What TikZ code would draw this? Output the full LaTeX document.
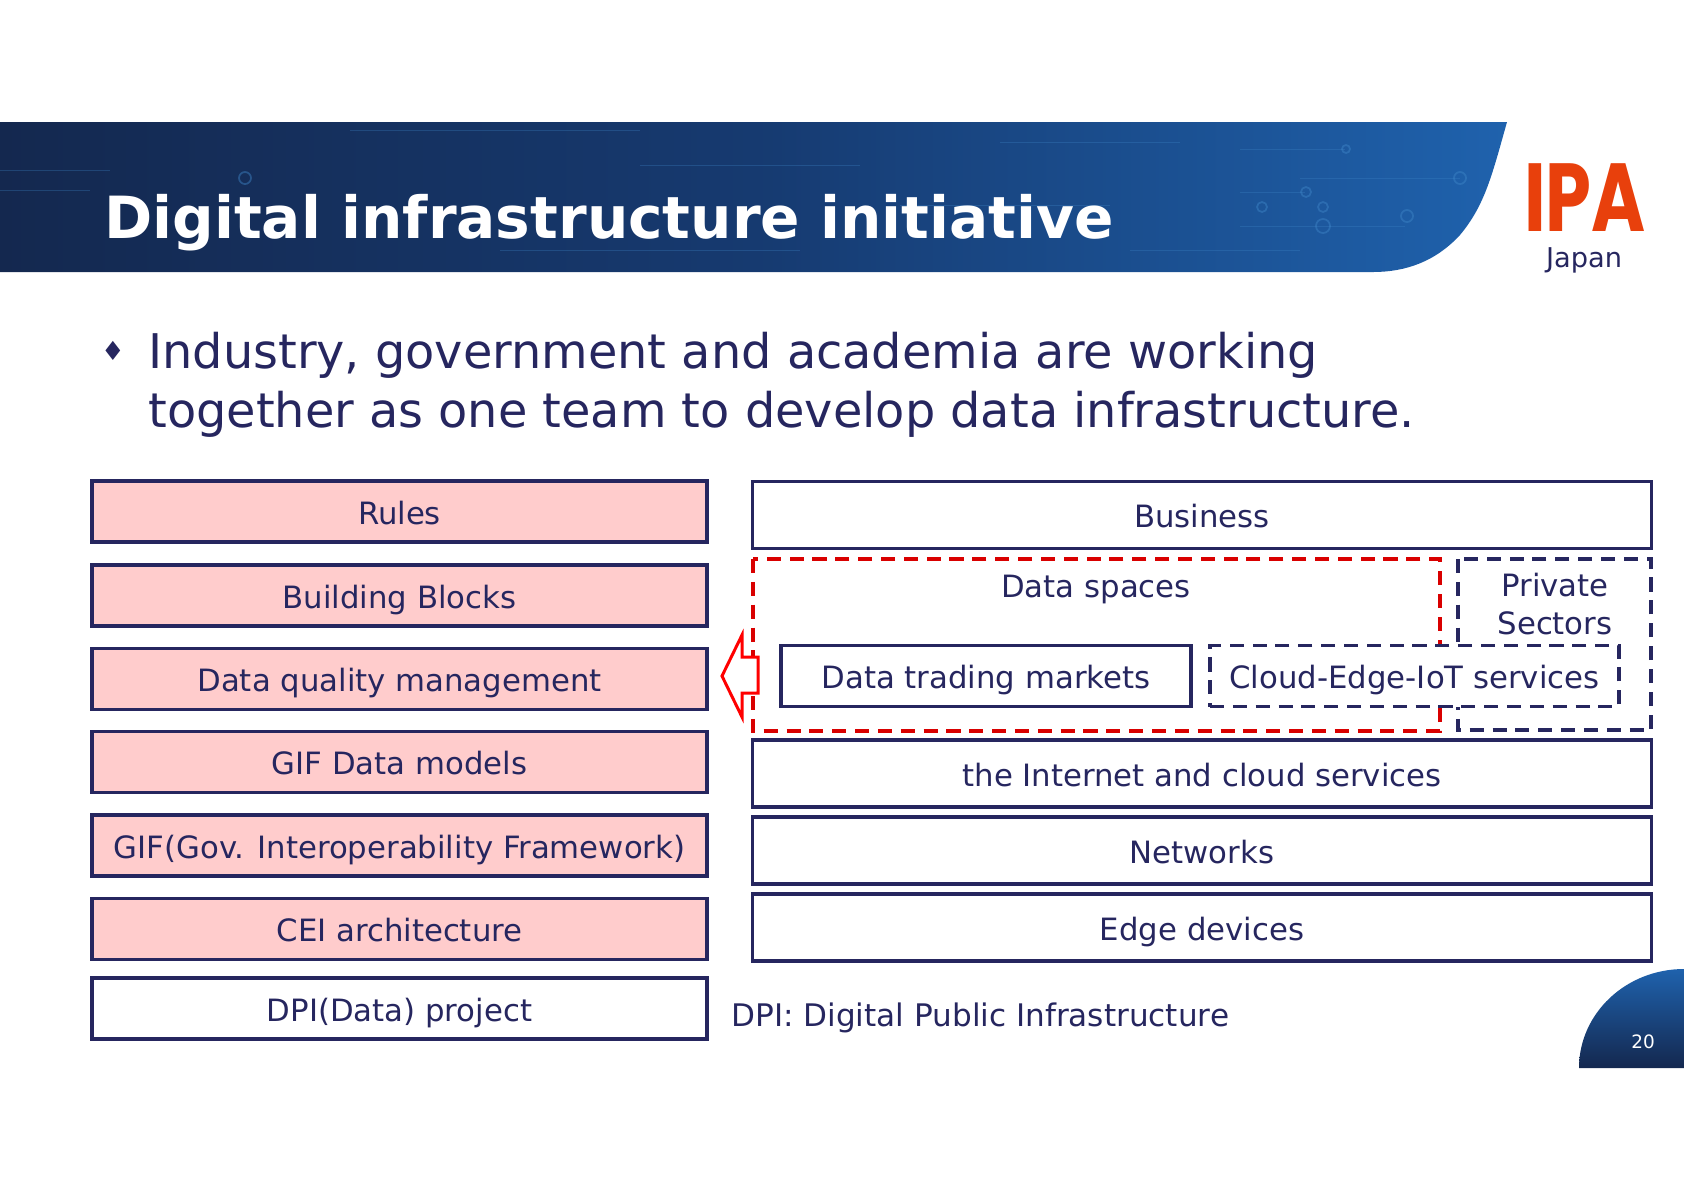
\documentclass[tikz,border=0pt]{standalone}
\usepackage{fontspec}
\usepackage{xcolor}
\setmainfont{DejaVu Sans}
\newfontfamily\logofont{Poppins}
\usetikzlibrary{calc, positioning}
\definecolor{navy}{HTML}{26265F}
\definecolor{pinkbox}{HTML}{FFCCCC}
\definecolor{bannerdark}{HTML}{14284F}
\definecolor{bannermid}{HTML}{163A70}
\definecolor{bannerblue}{HTML}{1F62AD}
\definecolor{circuit}{HTML}{3F86C8}
\definecolor{logored}{HTML}{E8400C}
\newcommand{\fs}[1]{\fontsize{#1}{#1}\selectfont}
\tikzset{
    leftbox/.style={draw=navy, line width=2pt, fill=pinkbox, text=navy, minimum width=12.3cm, minimum height=1.22cm, font=\fs{17.5}, inner sep=0pt, text height=14.3pt, text depth=0pt},
    rightbox/.style={draw=navy, line width=2pt, fill=white, text=navy, minimum width=17.98cm, minimum height=1.34cm, font=\fs{17.5}, inner sep=0pt, text height=14.3pt, text depth=0pt},
    innerbox/.style={draw=navy, line width=2pt, fill=white, text=navy, minimum height=1.22cm, font=\fs{17.5}, inner sep=0pt, text height=14.3pt, text depth=0pt},
    label/.style={text=navy, font=\fs{17.5}, inner sep=0pt},
    headline/.style={text=navy, font=\fs{27.2}, anchor=base west, inner sep=0pt},
    reddash/.style={draw=red!85!black, line width=2pt, dash pattern=on 8pt off 5pt},
    navydash/.style={draw=navy, line width=2pt, dash pattern=on 8pt off 5pt},
}

\begin{document}
\begin{tikzpicture}[x=0.02cm, y=-0.02cm]
    \useasboundingbox (0,0) rectangle (1684,1191);
    % 1. Banner
    \shade[left color=bannerdark, right color=bannerblue, middle color=bannermid]
        (0,122) -- (1507,122) .. controls (1492,175) and (1485,205) .. (1460,235)
        .. controls (1435,262) and (1405,272) .. (1373,272) -- (0,272) -- cycle;
    \foreach \xa/\ya/\xb in {1240/149/1345, 1300/178/1460, 1240/192/1305, 1240/226/1405, 1000/142/1180, 900/205/1110, 640/165/860, 0/170/110, 350/130/640, 0/190/90, 500/250/800, 1130/250/1300} {
        \draw[circuit, opacity=0.3, line width=0.4pt] (\xa,\ya) -- (\xb,\ya);
    }
    \foreach \cx/\cy/\rad in {1346/149/4, 1460/178/6, 1306/192/5, 1323/207/5, 1323/226/7, 1407/216/6, 1262/207/5, 245/178/6} {
        \draw[circuit, opacity=0.45, line width=1pt] (\cx,\cy) circle (\rad);
    }
    \node[font=\bfseries\fs{33.1}, text=white, anchor=base west, inner sep=0pt] (title) at (104,238) {Digital infrastructure initiative};
    % 2. Logo
    \node[text=logored, inner sep=0pt] (logo) at (1585,198) {\scalebox{0.76}[1]{\logofont\bfseries\fs{55}IPA}};
    \node[text=navy, font=\fs{15.5}, inner sep=0pt] (japan) at (1584,260) {Japan};
    % 3. Text
    \node[text=navy, font=\fs{15}, inner sep=0pt] (bullet) at (113,351) {♦};
    \node[headline] (lineone) at (148,368) {Industry, government and academia are working};
    \node[headline] (linetwo) at (148,427) {together as one team to develop data infrastructure.};
    % 4. Left column
    \foreach \name/\y/\txt in {rules/511.5/Rules, blocks/595.5/Building Blocks, quality/679/Data quality management, models/762/GIF Data models, gif/845.5/GIF(Gov. Interoperability Framework), cei/929/CEI architecture} {
        \node[leftbox] (\name) at (399.5,\y) {\txt};
    }
    \node[leftbox, fill=white] (dpi) at (399.5,1008.5) {DPI(Data) project};
    % 5. Right column
    \foreach \name/\y/\txt in {business/515/Business, internet/773.5/the Internet and cloud services, networks/850.5/Networks, edge/927.5/Edge devices} {
        \node[rightbox] (\name) at (1202,\y) {\txt};
    }
    \draw[navydash] (1458,559) rectangle (1651,730);
    \draw[reddash] (753,559) rectangle (1440,731);
    \node[innerbox, minimum width=8.2cm] (trading) at (986,676) {Data trading markets};
    \node[innerbox, navydash, minimum width=8.18cm] (cloud) at (1414.5,676) {Cloud-Edge-IoT services};
    \node[label, text height=14.3pt, text depth=0pt] (spaces) at (1096,585) {Data spaces};
    \node[label, align=center] (private) at (1555,604) {Private\\[4pt]Sectors};
    % 6. Arrow
    \draw[draw=red, fill=white, line width=1.7pt] (722,676) -- (742,635) -- (742,657) -- (758,657)
        -- (758,693) -- (742,693) -- (742,717) -- cycle;
    % 7. Footer
    \node[text=navy, font=\fs{17.7}, anchor=base west, inner sep=0pt] (note) at (731,1026) {DPI: Digital Public Infrastructure};
    \shade[top color=bannerblue, bottom color=bannerdark] (1579,1068) arc[start angle=180, end angle=270, x radius=105, y radius=99] -- (1684,1068) -- cycle;
    \node[text=white, font=\fs{10.5}, inner sep=0pt] (page) at (1643,1042) {20};
\end{tikzpicture}
\end{document}
